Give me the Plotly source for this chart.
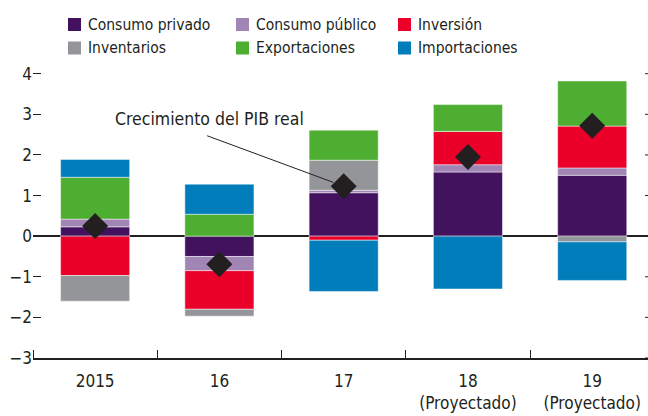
import plotly.graph_objects as go

categories = ["2015", "16", "17", "18<br>(Proyectado)", "19<br>(Proyectado)"]
consumo_privado = [0.23, -0.50, 1.07, 1.58, 1.50]
consumo_publico = [0.19, -0.35, 0.06, 0.18, 0.18]
inversion = [-0.97, -0.95, -0.10, 0.82, 1.03]
inventarios = [-0.63, -0.17, 0.74, 0.00, -0.14]
exportaciones = [1.03, 0.54, 0.74, 0.66, 1.11]
importaciones = [0.44, 0.74, -1.26, -1.30, -0.95]
pib_real = [0.25, -0.69, 1.23, 1.95, 2.72]
y_ticks = [-3, -2, -1, 0, 1, 2, 3, 4]

series = [
    ("Consumo privado", consumo_privado, "#43125F"),
    ("Consumo público", consumo_publico, "#A185B4"),
    ("Inversión", inversion, "#EA0029"),
    ("Inventarios", inventarios, "#939598"),
    ("Exportaciones", exportaciones, "#4DAE32"),
    ("Importaciones", importaciones, "#007DBA"),
]

FONT = "DejaVu Sans Condensed, Liberation Sans Narrow, Arial Narrow, sans-serif"
TXT = "#231F20"

W, H = 648, 416
L, T, B = 33, 66, 58
PW, PH = W - L, H - T - B  # plot area in px

fig = go.Figure()
xs = list(range(len(categories)))
for name, vals, col in series:
    fig.add_trace(go.Bar(
        x=xs, y=vals, name=name,
        marker=dict(color=col, line=dict(color="rgba(255,255,255,0.6)", width=0.8)),
        showlegend=False, hoverinfo="skip",
    ))
fig.add_trace(go.Scatter(
    x=xs, y=pib_real, mode="markers", name="Crecimiento del PIB real",
    marker=dict(symbol="diamond", size=20, color="#231F20"), showlegend=False,
    hoverinfo="skip",
))

# Manual legend (3 columns x 2 rows)
leg_x = [68, 236, 398]
leg_y = [24.5, 48]
for i, (name, vals, col) in enumerate(series):
    r, c = divmod(i, 3)
    x0 = leg_x[c]
    yc = leg_y[r]
    fig.add_shape(type="rect", xref="paper", yref="paper",
                  x0=(x0 - L) / PW, x1=(x0 + 13 - L) / PW,
                  y0=(H - B - (yc + 6.5)) / PH, y1=(H - B - (yc - 6.5)) / PH,
                  fillcolor=col, line=dict(width=0))
    fig.add_annotation(xref="paper", yref="paper", x=(x0 + 18 - L) / PW, y=(H - B - yc) / PH,
                       text=name, showarrow=False, xanchor="left", yanchor="middle",
                       font=dict(family=FONT, size=15.5, color=TXT))

# right-side mirrored ticks
for v in y_ticks:
    fig.add_shape(type="line", xref="paper", yref="y", x0=1 - 3 / PW, x1=1.0, y0=v, y1=v,
                  line=dict(color=TXT, width=1))

# Annotation for the diamond series
fig.add_annotation(x=2, y=pib_real[2], xref="x", yref="y", text="", showarrow=True,
                   arrowhead=0, arrowwidth=1, arrowcolor=TXT, ax=-138, ay=-51, standoff=11)
fig.add_annotation(x=0.917, y=2.88, xref="x", yref="y", text="Crecimiento del PIB real",
                   showarrow=False, font=dict(family=FONT, size=17.5, color=TXT))

fig.update_layout(
    width=W, height=H, barmode="relative", bargap=0.444,
    margin=dict(l=L, r=0, t=T, b=B, autoexpand=False),
    paper_bgcolor="white", plot_bgcolor="white",
    font=dict(family=FONT, size=17, color=TXT),
    hovermode=False,
    xaxis=dict(
        tickmode="array", tickvals=xs, ticktext=categories, automargin=False,
        range=[-0.5, 4.449], showline=True, linecolor=TXT, linewidth=1.5,
        ticks="", showgrid=False, zeroline=False, ticklabelstandoff=7,
        tickfont=dict(family=FONT, size=17, color=TXT),
        minor=dict(tickvals=[-0.5, 0.5, 1.5, 2.5, 3.5, 4.5], ticks="inside",
                   ticklen=8, tickcolor=TXT, tickwidth=1),
    ),
    yaxis=dict(
        range=[-3, 4.19], tickvals=y_ticks, showgrid=False, automargin=False,
        zeroline=True, zerolinecolor=TXT, zerolinewidth=1.5,
        ticks="inside", ticklen=8, tickcolor=TXT, showline=False,
        tickfont=dict(family=FONT, size=17, color=TXT), layer="above traces",
    ),
)

fig.write_html(
    "out.html",
    config={"displayModeBar": False, "staticPlot": True},
    post_script="document.body.style.margin='0';document.body.style.padding='0';"
                "document.body.style.overflow='hidden';",
)
